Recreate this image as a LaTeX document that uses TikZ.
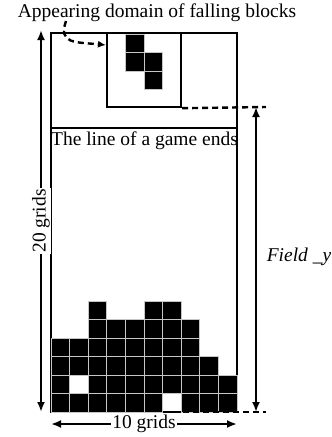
\documentclass[tikz,border=0pt]{standalone}
\usepackage{fontspec}
\setmainfont{Liberation Serif}
\usetikzlibrary{arrows.meta}
\begin{document}
\begin{tikzpicture}[x=1pt,y=-1pt,
  txt/.style={font=\fontsize{19.5}{22}\selectfont, inner sep=0pt},
  blk/.style={fill=black, draw=gray!45, line width=0.7pt},
  dimarrow/.style={line width=2.8pt, {Latex[length=10pt,width=8pt]}-{Latex[length=10pt,width=8pt]}},
  thickdash/.style={line width=2.4pt, dash pattern=on 6pt off 4pt}
]
\useasboundingbox (0,0) rectangle (332,437);
% field
\node (field) [draw, line width=1.1pt, minimum width=186pt, minimum height=379pt, inner sep=0pt] at (144,222.5) {};
\draw[line width=1.1pt] (51,128) -- (237,128);
\node (endline) [txt] at (144.5,141) {The line of a game ends};
% bottom blocks
\foreach \c/\r in {1/1,2/1,3/1,4/1,5/1,6/1,8/1,9/1,10/1,
                   1/2,3/2,4/2,5/2,6/2,7/2,8/2,9/2,10/2,
                   1/3,2/3,3/3,4/3,5/3,6/3,7/3,8/3,9/3,
                   1/4,2/4,3/4,4/4,5/4,6/4,7/4,8/4,
                   3/5,4/5,5/5,6/5,7/5,8/5,
                   3/6,6/6,7/6}
  \draw[blk] ({51+(\c-1)*18.6},{412-\r*18.5}) rectangle ({51+\c*18.6},{412-(\r-1)*18.5});
% falling tetromino
\foreach \c/\r in {5/1,5/2,6/2,6/3}
  \draw[blk] ({51+(\c-1)*18.6},{33+(\r-1)*18.5+1}) rectangle ({51+\c*18.6},{33+\r*18.5+1});
% appearing domain
\node (spawn) [draw, line width=2.4pt, minimum size=74pt, inner sep=0pt] at (144,70) {};
\coordinate (dr) at (266,107);
\coordinate (br) at (266,412);
\coordinate (bl) at (163,412);
\draw[thickdash] (spawn.south east) -- (dr);
\draw[thickdash] (bl) -- (br);
% right dimension
\coordinate (rt) at (256,107);
\coordinate (rb) at (256,412);
\draw[dimarrow] (rt) -- (rb);
\node (fy) [txt, font=\fontsize{19.5}{22}\selectfont\itshape] at (299,257) {Field \_y};
% left dimension
\coordinate (lt) at (41,30);
\coordinate (lb) at (41,412);
\draw[dimarrow] (lt) -- (lb);
\node (twenty) [txt, fill=white, rotate=90, inner sep=1pt] at (41,221) {20 grids};
% bottom dimension
\coordinate (bl2) at (51,424);
\coordinate (br2) at (237,424);
\draw[dimarrow] (bl2) -- (br2);
\node (ten) [txt, fill=white, inner sep=1pt] at (144,424) {10 grids};
% title
\node (title) [txt] at (157,13) {Appearing domain of falling blocks};
\coordinate (cs) at (66,21);
\coordinate (ce) at (106,45);
\draw[thickdash, -{Latex[length=8pt,width=7pt]}] (cs) .. controls (58,44) and (75,42) .. (ce);
\end{tikzpicture}
\end{document}
